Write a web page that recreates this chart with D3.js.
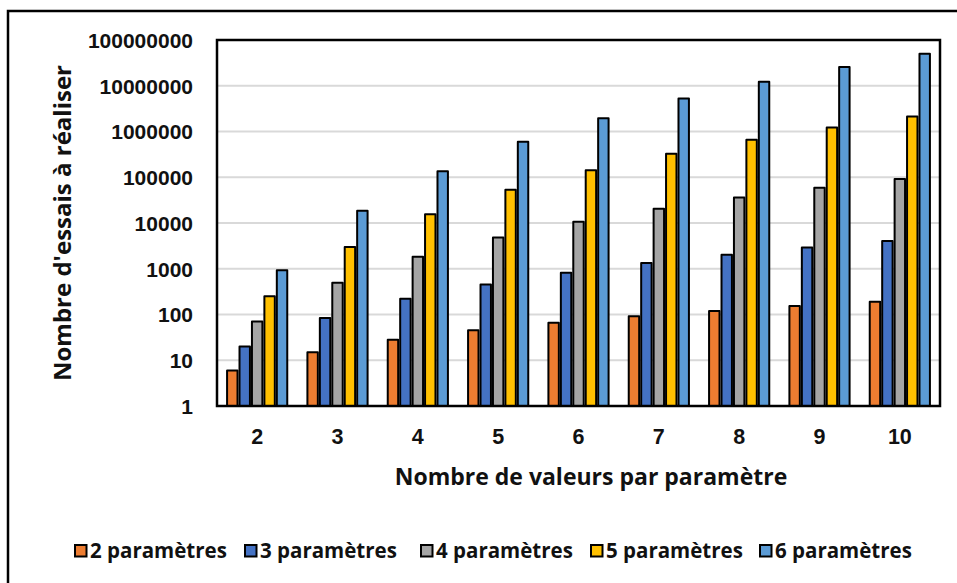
<!DOCTYPE html>
<html>
<head>
<meta charset="utf-8">
<script src="https://cdn.jsdelivr.net/npm/d3@7"></script>
<style>
  html, body { margin: 0; padding: 0; background: #fff; }
  svg { display: block; font-family: "Open Sans", "Liberation Sans", sans-serif; font-weight: 700; }
</style>
</head>
<body>
<svg id="chart" width="957" height="583"></svg>
<script>
// Number of values per parameter (x categories)
const categories = ["2", "3", "4", "5", "6", "7", "8", "9", "10"];

// Number of test runs required, per number of parameters
const params2 = [6, 15, 28, 45, 66, 91, 120, 153, 190];
const params3 = [20, 84, 220, 455, 816, 1330, 2024, 2925, 4060];
const params4 = [70, 495, 1820, 4845, 10626, 20475, 35960, 58905, 91390];
const params5 = [252, 3003, 15504, 53130, 142506, 324632, 658008, 1221759, 2118760];
const params6 = [924, 18564, 134596, 593775, 1947792, 5245786, 12271512, 25827165, 50063860];

const seriesNames = ["2 paramètres", "3 paramètres", "4 paramètres", "5 paramètres", "6 paramètres"];
const seriesValues = [params2, params3, params4, params5, params6];
const seriesColors = ["#ED7D31", "#4472C4", "#A5A5A5", "#FFC000", "#5B9BD5"];

const yTicks = [1, 10, 100, 1000, 10000, 100000, 1000000, 10000000, 100000000];

const xTitle = "Nombre de valeurs par paramètre";
const yTitle = "Nombre d'essais à réaliser";

const svg = d3.select("#chart");
const W = 957, H = 583;
const plot = { left: 217, top: 40, right: 940, bottom: 406 };

// Outer frame (runs off the right and bottom edges)
svg.append("rect")
  .attr("x", 8).attr("y", 11)
  .attr("width", W + 20).attr("height", H + 20)
  .attr("fill", "#fff").attr("stroke", "#000").attr("stroke-width", 2.5);

const x = d3.scaleBand().domain(categories).range([plot.left, plot.right]).padding(0);
const groupPad = 0.113;
const xs = d3.scaleBand()
  .domain(d3.range(seriesNames.length))
  .range([x.bandwidth() * groupPad, x.bandwidth() * (1 - groupPad)])
  .padding(0);

const y = d3.scaleLog().domain([1, 1e8]).range([plot.bottom, plot.top]);

// Horizontal gridlines
svg.append("g")
  .selectAll("line")
  .data(yTicks.slice(1, -1))
  .join("line")
  .attr("x1", plot.left).attr("x2", plot.right)
  .attr("y1", d => y(d)).attr("y2", d => y(d))
  .attr("stroke", "#d9d9d9").attr("stroke-width", 2);

// Bars
const rows = [];
seriesValues.forEach((vals, s) => {
  vals.forEach((v, i) => rows.push({ s, cat: categories[i], v }));
});
const sw = 2;
svg.append("g")
  .selectAll("rect")
  .data(rows)
  .join("rect")
  .attr("x", d => x(d.cat) + xs(d.s) + sw / 2)
  .attr("width", xs.bandwidth() - sw)
  .attr("y", d => y(d.v))
  .attr("height", d => y(1) - y(d.v))
  .attr("fill", d => seriesColors[d.s])
  .attr("stroke", "#000").attr("stroke-width", sw)
  .attr("stroke-linejoin", "round");

// Plot area border
svg.append("rect")
  .attr("x", plot.left).attr("y", plot.top)
  .attr("width", plot.right - plot.left).attr("height", plot.bottom - plot.top)
  .attr("fill", "none").attr("stroke", "#000").attr("stroke-width", 2.5);

// Y axis labels
const yAxis = d3.axisLeft(y).tickValues(yTicks).tickFormat(d3.format("d")).tickSize(0).tickPadding(24);
const gy = svg.append("g").attr("transform", `translate(${plot.left},0)`).call(yAxis);
gy.select(".domain").remove();
gy.selectAll("text")
  .attr("font-family", null).attr("font-size", 21).attr("font-weight", 700)
  .attr("fill", "#111").attr("dy", "0.35em");

// X axis labels
const xAxis = d3.axisBottom(x).tickSize(0).tickPadding(23);
const gx = svg.append("g").attr("transform", `translate(0,${plot.bottom})`).call(xAxis);
gx.select(".domain").remove();
gx.selectAll("text")
  .attr("font-family", null).attr("font-size", 21.5).attr("font-weight", 700)
  .attr("fill", "#111");

// Axis titles
svg.append("text")
  .attr("x", 591).attr("y", 485)
  .attr("text-anchor", "middle")
  .attr("font-size", 23).attr("fill", "#111")
  .text(xTitle);

svg.append("text")
  .attr("transform", `translate(71,223) rotate(-90)`)
  .attr("text-anchor", "middle")
  .attr("font-size", 24).attr("fill", "#111")
  .text(yTitle);

// Legend
const legendX = [74, 244, 420, 590, 759];
const lg = svg.append("g").selectAll("g")
  .data(seriesNames)
  .join("g")
  .attr("transform", (d, i) => `translate(${legendX[i]},544)`);
lg.append("rect")
  .attr("x", 1).attr("y", 1).attr("width", 11.5).attr("height", 11.5)
  .attr("fill", (d, i) => seriesColors[i])
  .attr("stroke", "#000").attr("stroke-width", 2);
lg.append("text")
  .attr("x", 16).attr("y", 13.5)
  .attr("font-size", 20.5).attr("fill", "#111")
  .text(d => d);
</script>
</body>
</html>
